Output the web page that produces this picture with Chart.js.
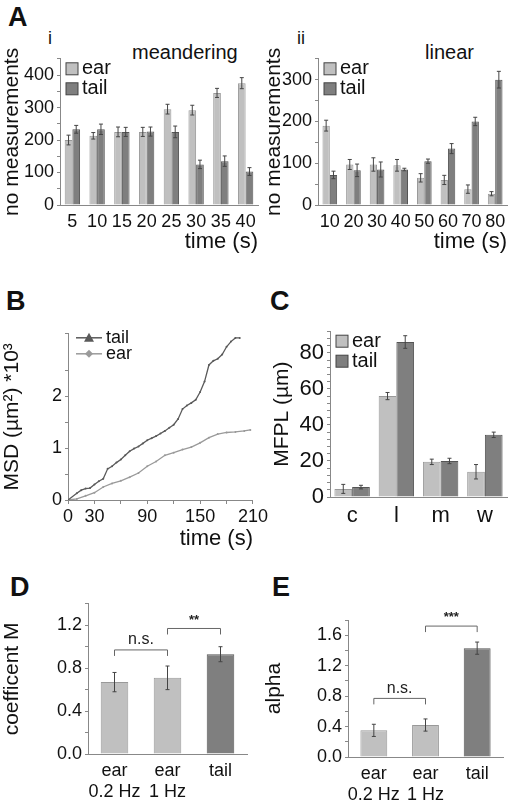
<!DOCTYPE html>
<html lang="en">
<head>
<meta charset="UTF-8">
<title>Figure</title>
<script src="https://cdn.jsdelivr.net/npm/chart.js@4.4.0/dist/chart.umd.min.js"></script>
<style>
  body { margin: 0; background: #fff; font-family: "Liberation Sans", Arial, sans-serif; color: #111; }
  #fig { position: relative; width: 511px; height: 800px; }
  .box { position: absolute; }
  .lbl { position: absolute; font-size: 20px; color: #111; }
  .letter { position: absolute; font-weight: bold; font-size: 27px; }
</style>
</head>
<body>
<div id="fig">
  <div class="letter" style="left:8px;top:2px">A</div>
  <div class="letter" style="left:6px;top:286px">B</div>
  <div class="letter" style="left:270px;top:286px">C</div>
  <div class="letter" style="left:10px;top:572px">D</div>
  <div class="letter" style="left:272px;top:572px">E</div>
  <div class="lbl" style="left:48px;top:28px;font-size:18px">i</div>
  <div class="lbl" style="left:297px;top:28px;font-size:18px">ii</div>
  <div class="lbl" style="left:132px;top:41px">meandering</div>
  <div class="lbl" style="left:425px;top:41px">linear</div>

  <div class="box" style="left:0;top:45px;width:262px;height:210px"><canvas id="ai"></canvas></div>
  <div class="box" style="left:262px;top:45px;width:249px;height:210px"><canvas id="aii"></canvas></div>
  <div class="box" style="left:0;top:320px;width:270px;height:232px"><canvas id="b"></canvas></div>
  <div class="box" style="left:270px;top:315px;width:241px;height:230px"><canvas id="c"></canvas></div>
  <div class="box" style="left:0;top:590px;width:255px;height:210px"><canvas id="d"></canvas></div>
  <div class="box" style="left:262px;top:590px;width:249px;height:210px"><canvas id="e"></canvas></div>
</div>
<script>
// ---- data ----
const aiTimes = ['5', '10', '15', '20', '25', '30', '35', '40'];
const aiEar = [200, 213, 225, 225, 295, 292, 345, 375];
const aiEarErr = [15, 10, 15, 14, 15, 15, 14, 17];
const aiTail = [233, 233, 225, 226, 225, 125, 135, 103];
const aiTailErr = [12, 16, 14, 14, 18, 13, 16, 12];

const aiiTimes = ['10', '20', '30', '40', '50', '60', '70', '80'];
const aiiEar = [190, 97, 97, 95, 65, 60, 38, 27];
const aiiEarErr = [13, 12, 16, 14, 10, 11, 10, 5];
const aiiTail = [72, 83, 85, 85, 105, 135, 200, 300];
const aiiTailErr = [9, 15, 18, 3, 5, 12, 10, 20];

const bTailT = [0, 10, 15, 20, 25, 30, 35, 40, 45, 50, 55, 60, 65, 70, 75, 80, 85, 90, 95, 100, 105, 110, 115, 120, 125, 130, 135, 140, 145, 150, 155, 160, 165, 170, 175, 180, 185, 190, 195];
const bTail = [0, 0.13, 0.19, 0.22, 0.23, 0.3, 0.36, 0.41, 0.6, 0.65, 0.72, 0.78, 0.86, 0.94, 0.99, 1.03, 1.09, 1.15, 1.19, 1.23, 1.28, 1.33, 1.39, 1.45, 1.56, 1.75, 1.82, 1.87, 1.93, 2.08, 2.28, 2.6, 2.68, 2.72, 2.8, 2.95, 3.05, 3.12, 3.12];
const bEarT = [0, 10, 20, 30, 40, 50, 60, 70, 80, 90, 100, 110, 120, 130, 140, 150, 160, 170, 180, 190, 200, 207];
const bEar = [0, 0.02, 0.08, 0.14, 0.25, 0.32, 0.37, 0.44, 0.52, 0.65, 0.74, 0.86, 0.91, 0.97, 1.02, 1.1, 1.2, 1.27, 1.3, 1.31, 1.33, 1.35];

const cCats = ['c', 'l', 'm', 'w'];
const cEar = [4.5, 56, 19.5, 14];
const cEarErr = [2.5, 2, 1.5, 4];
const cTail = [5.5, 86, 20, 34.5];
const cTailErr = [1, 3.5, 1.5, 1.5];

const deCats = [['ear', '0.2 Hz'], ['ear', '1 Hz'], 'tail'];
const dVals = [0.67, 0.71, 0.93];
const dErr = [0.09, 0.11, 0.07];
const eVals = [0.35, 0.42, 1.43];
const eErr = [0.08, 0.08, 0.08];

const LIGHT = '#c0c0c0', DARK = '#7f7f7f', LINE_D = '#5a5a5a', LINE_L = '#9a9a9a';
const FONT = 'Liberation Sans';
Chart.defaults.font.family = FONT;
Chart.defaults.color = '#111';
Chart.defaults.animation = false;

// error bars, brackets and inner legend
const extras = {
  id: 'extras',
  afterDatasetsDraw(chart, args, opts) {
    const ctx = chart.ctx, y = chart.scales.y;
    ctx.save();
    chart.data.datasets.forEach((ds, di) => {
      if (!ds.errors) return;
      const meta = chart.getDatasetMeta(di);
      ctx.strokeStyle = '#444'; ctx.lineWidth = 1;
      meta.data.forEach((bar, i) => {
        const v = ds.data[i], e = ds.errors[i];
        const t = y.getPixelForValue(v + e), b = y.getPixelForValue(v - e);
        ctx.beginPath();
        ctx.moveTo(bar.x, t); ctx.lineTo(bar.x, b);
        ctx.moveTo(bar.x - 2, t); ctx.lineTo(bar.x + 2, t);
        ctx.moveTo(bar.x - 2, b); ctx.lineTo(bar.x + 2, b);
        ctx.stroke();
      });
    });
    (opts.brackets || []).forEach(br => {
      const meta = chart.getDatasetMeta(0);
      const x1 = meta.data[br.from].x, x2 = meta.data[br.to].x;
      const yy = y.getPixelForValue(br.at);
      ctx.strokeStyle = '#666'; ctx.lineWidth = 1;
      ctx.beginPath();
      ctx.moveTo(x1, yy + 6); ctx.lineTo(x1, yy); ctx.lineTo(x2, yy); ctx.lineTo(x2, yy + 6);
      ctx.stroke();
      ctx.fillStyle = '#222'; ctx.textAlign = 'center'; ctx.textBaseline = 'bottom';
      ctx.font = br.text === 'n.s.' ? '16px ' + FONT : 'bold 13px ' + FONT;
      ctx.fillText(br.text, (x1 + x2) / 2, yy - 2);
    });
    if (opts.legend) {
      const a = chart.chartArea;
      let ly = a.top + opts.legend.dy;
      ctx.font = opts.legend.size + 'px ' + FONT;
      ctx.textBaseline = 'middle'; ctx.textAlign = 'left';
      opts.legend.items.forEach(it => {
        const lx = a.left + opts.legend.dx;
        if (opts.legend.line) {
          ctx.strokeStyle = it.color; ctx.lineWidth = 1.5;
          ctx.beginPath(); ctx.moveTo(lx, ly); ctx.lineTo(lx + 26, ly); ctx.stroke();
          ctx.fillStyle = it.color;
          ctx.beginPath();
          if (it.marker === 'tri') { ctx.moveTo(lx + 13, ly - 5); ctx.lineTo(lx + 18, ly + 4); ctx.lineTo(lx + 8, ly + 4); }
          else { ctx.moveTo(lx + 13, ly - 4); ctx.lineTo(lx + 17, ly); ctx.lineTo(lx + 13, ly + 4); ctx.lineTo(lx + 9, ly); }
          ctx.fill();
          ctx.fillStyle = '#111'; ctx.fillText(it.text, lx + 30, ly);
        } else {
          ctx.fillStyle = it.color; ctx.strokeStyle = '#444'; ctx.lineWidth = 1;
          ctx.fillRect(lx, ly - 6, 12, 12); ctx.strokeRect(lx, ly - 6, 12, 12);
          ctx.fillStyle = '#111'; ctx.fillText(it.text, lx + 16, ly);
        }
        ly += opts.legend.step;
      });
    }
    ctx.restore();
  }
};
Chart.register(extras);

function isMult(v, s) { return Math.abs(v / s - Math.round(v / s)) < 1e-6; }

function axes(o) {
  return {
    x: {
      type: o.xType || 'category', min: o.xMin, max: o.xMax, offset: o.xType !== 'linear',
      grid: { drawOnChartArea: false, tickLength: 4, color: '#888', display: o.xType === 'linear' },
      border: { color: '#888' },
      ticks: Object.assign({ font: { size: o.tickSize || 18 }, padding: 2, maxRotation: 0, autoSkip: false }, o.xTicks || {}),
      title: o.xTitle ? { display: true, text: o.xTitle, align: 'end', font: { size: 22 }, padding: { top: 2, bottom: 0 } } : { display: false },
      afterFit: s => { s.height = o.xH; }
    },
    y: {
      min: 0, max: o.yMax,
      grid: { drawOnChartArea: false, tickLength: 3, color: '#888' },
      border: { color: '#888' },
      ticks: { stepSize: o.step, autoSkip: false, font: { size: o.tickSize || 18 }, padding: 3,
        callback: v => (isMult(v, o.labStep) && v <= o.yLabMax + 1e-9) ? (o.fmt ? o.fmt(v) : v) : '' },
      title: { display: true, text: o.yTitle, font: { size: 21 }, padding: 0 },
      afterFit: s => { s.width = o.yW; }
    }
  };
}

function pairBars(id, cats, ear, earErr, tail, tailErr, o) {
  new Chart(document.getElementById(id), {
    type: 'bar',
    data: { labels: cats, datasets: [
      { data: ear, errors: earErr, backgroundColor: LIGHT, borderColor: '#999', borderWidth: 1 },
      { data: tail, errors: tailErr, backgroundColor: DARK, borderColor: '#555', borderWidth: 1 }
    ] },
    options: {
      responsive: true, maintainAspectRatio: false,
      layout: { padding: { top: o.padTop, right: 4 } },
      categoryPercentage: o.cat, barPercentage: 1,
      plugins: { legend: { display: false }, tooltip: { enabled: false },
        extras: { legend: { dx: 6, dy: 10, step: 20, size: 20, items: [{ text: 'ear', color: LIGHT }, { text: 'tail', color: DARK }] } } },
      scales: axes(o)
    }
  });
}

pairBars('ai', aiTimes, aiEar, aiEarErr, aiTail, aiTailErr,
  { padTop: 7, cat: 0.62, yMax: 450, yLabMax: 400, step: 50, labStep: 100, yTitle: 'no measurements', yW: 60, xH: 50, xTitle: 'time (s)' });
pairBars('aii', aiiTimes, aiiEar, aiiEarErr, aiiTail, aiiTailErr,
  { padTop: 7, cat: 0.62, yMax: 350, yLabMax: 300, step: 50, labStep: 100, yTitle: 'no measurements', yW: 56, xH: 50, xTitle: 'time (s)' });
pairBars('c', cCats, cEar, cEarErr, cTail, cTailErr,
  { padTop: 7, cat: 0.8, yMax: 92, yLabMax: 80, step: 4, labStep: 20, yTitle: 'MFPL (µm)', yW: 60, xH: 48, tickSize: 22 });

// B: MSD lines
new Chart(document.getElementById('b'), {
  type: 'line',
  data: { datasets: [
    { data: bTailT.map((t, i) => ({ x: t, y: bTail[i] })), borderColor: LINE_D, borderWidth: 1.3, pointRadius: 1, pointBackgroundColor: LINE_D, pointBorderWidth: 0 },
    { data: bEarT.map((t, i) => ({ x: t, y: bEar[i] })), borderColor: LINE_L, borderWidth: 1.3, pointRadius: 1, pointBackgroundColor: LINE_L, pointBorderWidth: 0 }
  ] },
  options: {
    responsive: true, maintainAspectRatio: false,
    layout: { padding: { top: 8, right: 8 } },
    plugins: { legend: { display: false }, tooltip: { enabled: false },
      extras: { legend: { line: true, dx: 8, dy: 4, step: 16, size: 18, items: [{ text: 'tail', color: LINE_D, marker: 'tri' }, { text: 'ear', color: LINE_L, marker: 'dia' }] } } },
    scales: axes({ xType: 'linear', xMin: 0, xMax: 210, yMax: 3.2, yLabMax: 3, step: 0.5, labStep: 1, yTitle: 'MSD (µm²) *10³', yW: 68, xH: 52, xTitle: 'time (s)',
      xTicks: { stepSize: 30, callback: v => [60, 120, 180].includes(v) ? '' : v } })
  }
});

function singleBars(id, vals, errs, o, brackets) {
  new Chart(document.getElementById(id), {
    type: 'bar',
    data: { labels: deCats, datasets: [
      { data: vals, errors: errs, backgroundColor: [LIGHT, LIGHT, DARK], borderColor: ['#999', '#999', '#555'], borderWidth: 1 }
    ] },
    options: {
      responsive: true, maintainAspectRatio: false,
      layout: { padding: { top: o.padTop, right: 8 } },
      categoryPercentage: 1, barPercentage: 0.52,
      plugins: { legend: { display: false }, tooltip: { enabled: false }, extras: { brackets } },
      scales: axes(o)
    }
  });
}

singleBars('d', dVals, dErr,
  { padTop: 8, yMax: 1.4, yLabMax: 1.2, step: 0.2, labStep: 0.4, yTitle: 'coefficent M', yW: 88, xH: 46, tickSize: 18, fmt: v => v.toFixed(1) },
  [{ from: 0, to: 1, at: 0.97, text: 'n.s.' }, { from: 1, to: 2, at: 1.17, text: '**' }]);
singleBars('e', eVals, eErr,
  { padTop: 30, yMax: 1.8, yLabMax: 1.6, step: 0.2, labStep: 0.4, yTitle: 'alpha', yW: 86, xH: 43, tickSize: 18, fmt: v => v.toFixed(1) },
  [{ from: 0, to: 1, at: 0.77, text: 'n.s.' }, { from: 1, to: 2, at: 1.72, text: '***' }]);
</script>
</body>
</html>
